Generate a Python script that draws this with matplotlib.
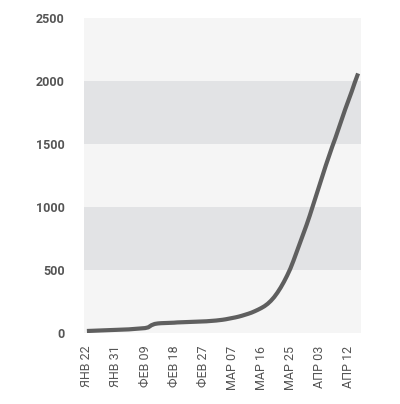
import matplotlib
matplotlib.use("Agg")
import matplotlib.pyplot as plt
import pandas as pd

start_date = "2020-01-22"
values = [16, 17, 18, 19, 20, 21, 22, 23, 24, 25,
          26, 27, 28, 29, 31, 33, 35, 37, 39, 45,
          62, 72, 76, 78, 79, 80, 81, 82, 84, 85,
          86, 87, 88, 89, 90, 91, 92, 93, 95, 97,
          99, 102, 105, 109, 114, 119, 124, 130, 137, 145,
          153, 162, 173, 185, 198, 213, 232, 256, 285, 320,
          360, 405, 455, 510, 575, 645, 715, 785, 855, 930,
          1010, 1090, 1170, 1250, 1330, 1405, 1480, 1550, 1625, 1700,
          1775, 1845, 1915, 1990, 2060]
tick_dates = ["2020-01-22", "2020-01-31", "2020-02-09", "2020-02-18", "2020-02-27",
              "2020-03-07", "2020-03-16", "2020-03-25", "2020-04-03", "2020-04-12"]
tick_labels = ["ЯНВ 22", "ЯНВ 31", "ФЕВ 09", "ФЕВ 18", "ФЕВ 27",
               "МАР 07", "МАР 16", "МАР 25", "АПР 03", "АПР 12"]
y_ticks = [0, 500, 1000, 1500, 2000, 2500]

dates = pd.date_range(start_date, periods=len(values), freq="D")

plt.rcParams['font.family'] = ['Roboto', 'DejaVu Sans']

fig = plt.figure(figsize=(4, 4.04), dpi=100)
ax = fig.add_axes([0.21, 0.1757, 0.6925, 0.7797])
ax.set_facecolor("#f5f5f5")

# darker bands on every other 500 step
for lo in y_ticks[1::2]:
    ax.axhspan(lo, lo + 500, color="#e2e3e5", lw=0, zorder=0)

ax.plot(dates, values, color="#5f5f5f", lw=3, solid_capstyle="butt", zorder=2)

ax.set_ylim(0, 2500)
ax.set_xlim(dates[0] - pd.Timedelta(days=0.9), dates[-1] + pd.Timedelta(days=0.9))
ax.set_yticks(y_ticks)
ax.set_yticklabels([str(v) for v in y_ticks], fontsize=9, fontweight="bold", color="#555555")
ax.set_xticks(pd.to_datetime(tick_dates))
ax.set_xticklabels(tick_labels, rotation=90, fontsize=9, color="#555555")
ax.tick_params(axis="y", length=0, pad=14)
ax.tick_params(axis="x", length=0, pad=9)
for s in ax.spines.values():
    s.set_visible(False)

fig.savefig("out.png", dpi=100)
